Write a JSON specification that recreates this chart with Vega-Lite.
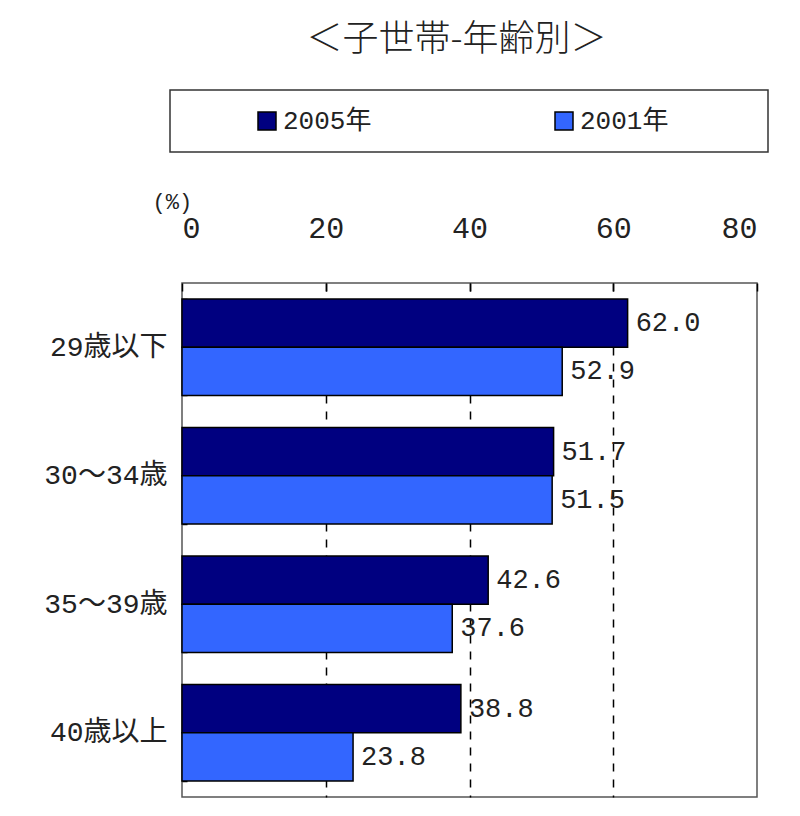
{
  "$schema": "https://vega.github.io/schema/vega-lite/v6.json",
  "autosize": {"type": "none"},
  "padding": {"left": 182, "top": 283, "right": 43, "bottom": 19},
  "width": 575,
  "height": 514,
  "background": "white",
  "title": {
    "text": "＜子世帯-年齢別＞",
    "font": "Noto Sans CJK JP",
    "fontSize": 36,
    "fontWeight": 300,
    "color": "#222",
    "anchor": "middle",
    "dx": -13,
    "dy": -26,
    "frame": "group"
  },
  "data": {
    "values": [
      {"age": "29歳以下", "year": "2005年", "pct": 62.0},
      {"age": "29歳以下", "year": "2001年", "pct": 52.9},
      {"age": "30～34歳", "year": "2005年", "pct": 51.7},
      {"age": "30～34歳", "year": "2001年", "pct": 51.5},
      {"age": "35～39歳", "year": "2005年", "pct": 42.6},
      {"age": "35～39歳", "year": "2001年", "pct": 37.6},
      {"age": "40歳以上", "year": "2005年", "pct": 38.8},
      {"age": "40歳以上", "year": "2001年", "pct": 23.8}
    ]
  },
  "encoding": {
    "y": {
      "field": "age",
      "type": "nominal",
      "sort": ["29歳以下", "30～34歳", "35～39歳", "40歳以上"],
      "scale": {"paddingInner": 0.25, "paddingOuter": 0.125},
      "axis": {
        "title": null,
        "domain": false,
        "tickBand": "extent",
        "tickSize": -5,
        "tickColor": "#000",
        "tickWidth": 1.5,
        "labelPadding": 20,
        "labelFontSize": 28,
        "labelFont": "Liberation Mono, Noto Sans CJK JP",
        "labelColor": "#222"
      }
    },
    "yOffset": {
      "field": "year",
      "type": "nominal",
      "sort": ["2005年", "2001年"]
    }
  },
  "layer": [
    {
      "mark": {"type": "bar", "stroke": "#000", "strokeWidth": 1.5},
      "encoding": {
        "x": {
          "field": "pct",
          "type": "quantitative",
          "scale": {"domain": [0, 80], "nice": false},
          "axis": {
            "orient": "top",
            "values": [0, 20, 40, 60, 80],
            "domain": false,
            "grid": true,
            "gridColor": "#000",
            "gridDash": [8, 8],
            "gridWidth": 1.5,
            "gridOpacity": {"condition": {"test": "datum.value > 0 && datum.value < 80", "value": 1}, "value": 0},
            "tickSize": -8,
            "tickColor": "#000",
            "tickWidth": 1.5,
            "labelPadding": 48,
            "labelFontSize": 30,
            "labelFont": "Liberation Mono",
            "labelColor": "#222",
            "title": "(%)",
            "titleFont": "Liberation Mono",
            "titleFontSize": 22,
            "titleFontWeight": "normal",
            "titleColor": "#222",
            "titleAngle": 0,
            "titleAlign": "left",
            "titleAnchor": "start",
            "titleX": -30,
            "titleY": -82,
            "titleBaseline": "middle"
          }
        },
        "color": {
          "field": "year",
          "type": "nominal",
          "sort": ["2005年", "2001年"],
          "scale": {"domain": ["2005年", "2001年"], "range": ["#000080", "#3366FF"]},
          "legend": {
            "orient": "none",
            "legendX": -12,
            "legendY": -193,
            "direction": "horizontal",
            "columns": 2,
            "title": "\u00a0",
            "titleOrient": "right",
            "titlePadding": 82,
            "symbolType": "square",
            "symbolSize": 324,
            "symbolStrokeColor": "#000",
            "symbolStrokeWidth": 1.5,
            "symbolOffset": 66,
            "labelFontSize": 26,
            "labelFont": "Liberation Mono, Noto Sans CJK JP",
            "labelColor": "#222",
            "labelOffset": 3,
            "columnPadding": 113,
            "padding": 18,
            "strokeColor": "#333",
            "fillColor": "white"
          }
        }
      }
    },
    {
      "mark": {
        "type": "text",
        "align": "left",
        "baseline": "middle",
        "dx": 8,
        "font": "Liberation Mono",
        "fontSize": 27,
        "color": "#222"
      },
      "encoding": {
        "x": {"field": "pct", "type": "quantitative"},
        "text": {"field": "pct", "type": "quantitative", "format": ".1f"}
      }
    }
  ],
  "config": {
    "view": {"stroke": "#555", "strokeWidth": 1.5},
    "legend": {"strokeWidth": 1.5}
  }
}
